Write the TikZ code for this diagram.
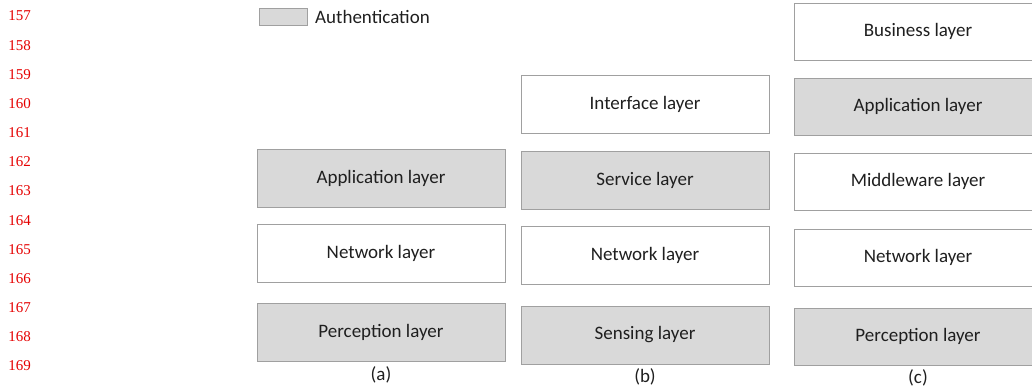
\documentclass[tikz,border=0pt]{standalone}
\usepackage{fontspec}
\setmainfont{Carlito}
\newfontfamily\numfont{Liberation Serif}
\usetikzlibrary{positioning}
\definecolor{authgray}{RGB}{217,217,217}
\definecolor{edgegray}{RGB}{160,160,160}
\tikzset{
    layer/.style={draw=edgegray,
            line width=1pt,
            minimum width=248pt,
            minimum height=58pt,
            inner sep=0pt,
            outer sep=0pt,
            text=black!88,
            font=\fontsize{19}{22}\selectfont},
    auth/.style={layer, fill=authgray},
    plain/.style={layer, fill=white},
    slim/.style={minimum height=57pt},
    tag/.style={inner sep=0pt, text=black!88, font=\fontsize{19}{22}\selectfont},
    linenum/.style={anchor=east, inner sep=0pt, text=red!90!black, font=\numfont\fontsize{15}{17}\selectfont},
}

\begin{document}
\begin{tikzpicture}[x=1pt,y=-1pt]
\useasboundingbox (0,0) rectangle (1032,391);
\foreach \n [count=\i from 0] in {157,...,169}
    \node[linenum] (ln\n) at (31,16+29.17*\i) {\n};
% legend
\node[auth, minimum width=48pt, minimum height=17pt] (key) at (283,16.5) {};
\node[tag, right=8pt of key] (keytext) {Authentication};
% (a)
\node[auth] (appA) at (381,178) {Application layer};
\node[plain, below=17pt of appA] (netA) {Network layer};
\node[auth, below=21pt of netA] (perA) {Perception layer};
\node[tag, below=5.5pt of perA] (capA) {(a)};
% (b)
\node[plain] (ifB) at (645,104) {Interface layer};
\node[auth, below=18pt of ifB] (srvB) {Service layer};
\node[plain, below=17pt of srvB] (netB) {Network layer};
\node[auth, below=22pt of netB] (senB) {Sensing layer};
\node[tag, below=4.5pt of senB] (capB) {(b)};
% (c)
\node[plain, slim] (busC) at (918,31.5) {Business layer};
\node[auth, slim, below=18pt of busC] (appC) {Application layer};
\node[plain, slim, below=18pt of appC] (midC) {Middleware layer};
\node[plain, slim, below=19pt of midC] (netC) {Network layer};
\node[auth, slim, below=22pt of netC] (perC) {Perception layer};
\node[tag, below=4.5pt of perC] (capC) {(c)};
\end{tikzpicture}
\end{document}
